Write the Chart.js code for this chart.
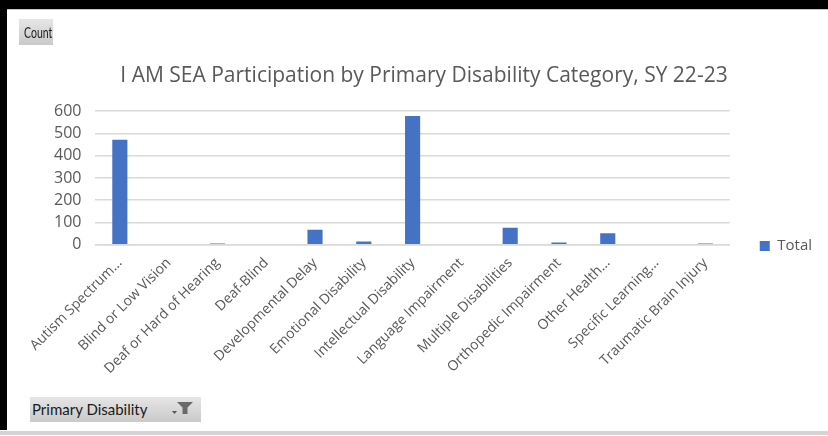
<!DOCTYPE html>
<html>
<head>
<meta charset="utf-8">
<script src="https://cdn.jsdelivr.net/npm/chart.js@4/dist/chart.umd.min.js"></script>
<style>
  html, body { margin: 0; padding: 0; background: #fff; }
  body { width: 828px; height: 436px; position: relative; overflow: hidden; font-family: "Open Sans", sans-serif; }
  #wrap { position: absolute; left: 0; top: 0; width: 828px; height: 436px; }
  canvas { position: absolute; left: 0; top: 0; }
  .frame-top { position: absolute; left: 0; top: 0; width: 828px; height: 9px; background: #000; }
  .frame-top-line { position: absolute; left: 7px; top: 9px; width: 821px; height: 1px; background: #c8c8c8; }
  .frame-left { position: absolute; left: 0; top: 0; width: 7px; height: 430px; background: #000; }
  .frame-bottom { position: absolute; left: 0; top: 431px; width: 828px; height: 4px; background: #d4d4d4; }
  .btn { position: absolute; background: linear-gradient(#e6e6e6, #c9c9c9); color: #1a1a1a; font-family: Lato, sans-serif; box-sizing: border-box; white-space: nowrap; }
  #count { left: 19px; top: 19px; width: 34px; height: 26px; }
  #count span { position: absolute; left: 0; top: 0; width: 34px; font-size: 15px; line-height: 26px; text-align: center; transform: scaleX(0.7); transform-origin: 50% 50%; }
  #field { left: 30px; top: 397px; width: 171px; height: 25px; font-size: 15px; line-height: 25px; padding-left: 2px; }
  #field svg { position: absolute; left: 140px; top: 0; }
</style>
</head>
<body>
<div id="wrap"><canvas id="chart" width="828" height="436"></canvas></div>
<div class="frame-top"></div>
<div class="frame-top-line"></div>
<div class="frame-left"></div>
<div class="frame-bottom"></div>
<div class="btn" id="count"><span>Count</span></div>
<div class="btn" id="field">Primary Disability
  <svg width="26" height="25" viewBox="0 0 26 25">
    <path d="M2 14 L7 14 L4.5 17 Z" fill="#555"/>
    <path d="M7 5 L23 5 L17.5 10.5 L17.5 17 L12.5 17 L12.5 10.5 Z" fill="#6a6a6a"/>
  </svg>
</div>
<script>
// Participation counts by primary disability category, SY 22-23
const categories = [
  "Autism Spectrum...",
  "Blind or Low Vision",
  "Deaf or Hard of Hearing",
  "Deaf-Blind",
  "Developmental Delay",
  "Emotional Disability",
  "Intellectual Disability",
  "Language Impairment",
  "Multiple Disabilities",
  "Orthopedic Impairment",
  "Other Health...",
  "Specific Learning...",
  "Traumatic Brain Injury"
];
const totals = [472, 0, 5, 0, 67, 15, 578, 0, 76, 10, 51, 0, 6];
const yTicks = [0, 100, 200, 300, 400, 500, 600];

const textGray = "#595959";

new Chart(document.getElementById("chart"), {
  type: "bar",
  data: {
    labels: categories,
    datasets: [{
      label: "Total",
      data: totals,
      backgroundColor: "#4472C4",
      borderWidth: 0,
      categoryPercentage: 1,
      barPercentage: 0.31
    }]
  },
  options: {
    responsive: false,
    animation: false,
    layout: { padding: { top: 63, left: 26, right: 6, bottom: 49 } },
    plugins: {
      title: {
        display: true,
        text: "I AM SEA Participation by Primary Disability Category, SY 22-23",
        color: textGray,
        font: { family: "Open Sans", size: 21, weight: "normal" },
        padding: { top: 0, bottom: 23 }
      },
      legend: {
        position: "right",
        // blank legend heading: pushes the single entry down beside the axis baseline
        title: { display: true, text: " ", font: { size: 10 }, padding: { top: 15, bottom: 15 } },
        labels: {
          color: textGray,
          font: { family: "Open Sans", size: 15 },
          boxWidth: 10,
          boxHeight: 10,
          padding: 30
        }
      },
      tooltip: { enabled: false }
    },
    scales: {
      x: {
        grid: { display: false, drawTicks: false },
        border: { display: true, color: "#d9d9d9", width: 1.5 },
        ticks: {
          color: textGray,
          font: { family: "Open Sans", size: 14 },
          minRotation: 45,
          maxRotation: 45,
          autoSkip: false,
          padding: 10
        }
      },
      y: {
        min: 0,
        max: 600,
        afterBuildTicks: (axis) => { axis.ticks = yTicks.map(v => ({ value: v })); },
        afterFit: (axis) => { axis.width += 14; },
        grid: { color: "#d9d9d9", lineWidth: 1.5, drawTicks: false },
        border: { display: false },
        ticks: {
          color: textGray,
          font: { family: "Open Sans", size: 16 },
          padding: 14,
          autoSkip: false
        }
      }
    }
  }
});
</script>
</body>
</html>
